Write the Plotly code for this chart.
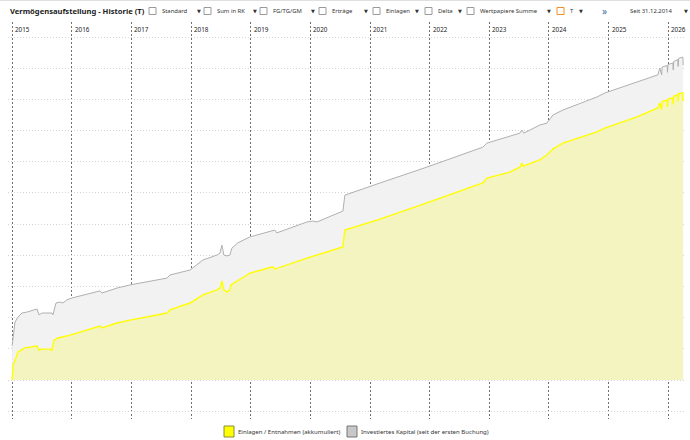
import plotly.graph_objects as go

W, H = 690, 440

# ---------------- data (values in thousand EUR) ----------------
einlagen_dates = ["2015-01-01","2015-01-07","2015-01-25","2015-02-06","2015-03-20","2015-05-09","2015-06-03","2015-06-15","2015-07-03","2015-08-21","2015-09-02","2015-09-15","2015-10-09","2015-12-22","2016-04-03","2016-06-23","2016-07-04","2016-10-04","2016-12-23","2017-08-07","2017-08-25","2017-12-26","2018-03-15","2018-06-09","2018-06-27","2018-07-09","2018-07-21","2018-08-09","2018-08-27","2018-09-02","2018-12-09","2018-12-27","2019-05-17","2019-05-29","2019-12-12","2020-02-11","2020-07-19","2020-07-31","2020-12-13","2021-03-03","2021-12-15","2022-11-23","2022-12-18","2023-05-08","2023-07-08","2023-07-20","2023-07-28","2023-11-07","2023-12-20","2024-01-26","2024-03-27","2024-10-22","2024-12-10","2025-06-24","2025-10-30","2025-11-11","2025-11-22","2025-11-25","2025-12-26","2025-12-28","2025-12-31","2026-01-30","2026-02-01","2026-02-04","2026-03-01","2026-03-03","2026-03-06","2026-04-01","2026-04-03"]
einlagen_vals = [0.0,4.8,7.1,9.0,10.3,10.6,10.9,9.6,9.9,9.9,9.6,12.8,13.5,14.4,16.0,17.3,16.7,18.3,19.2,21.5,22.5,24.7,27.3,28.9,29.5,31.8,28.9,28.2,28.9,30.5,33.7,34.3,36.3,35.6,39.1,40.1,42.7,48.1,50.4,51.6,56.8,63.2,64.8,66.7,68.3,69.6,68.6,70.6,72.2,74.1,76.0,79.6,80.8,84.4,87.3,88.9,86.8,89.3,89.8,87.6,90.1,90.5,88.4,91.0,91.5,89.4,91.9,92.1,89.5]

kapital_dates = ["2015-01-01","2015-01-07","2015-01-19","2015-02-06","2015-03-03","2015-04-02","2015-06-03","2015-06-15","2015-07-03","2015-09-02","2015-09-08","2015-09-27","2015-10-21","2015-11-08","2015-12-02","2016-01-01","2016-04-03","2016-06-23","2016-07-04","2016-10-04","2016-12-23","2017-08-07","2017-08-25","2017-12-26","2018-03-15","2018-06-09","2018-06-27","2018-07-09","2018-07-21","2018-08-09","2018-08-27","2018-09-08","2018-10-14","2018-12-27","2019-05-29","2019-06-10","2019-12-12","2020-01-17","2020-02-11","2020-07-19","2020-07-31","2020-12-13","2021-03-03","2021-12-15","2022-11-23","2022-12-18","2023-05-08","2023-07-08","2023-07-20","2023-08-01","2023-11-07","2023-12-20","2024-01-26","2024-03-27","2024-10-22","2024-12-10","2025-06-24","2025-10-30","2025-11-11","2025-11-22","2025-11-25","2025-12-26","2025-12-28","2025-12-31","2026-01-30","2026-02-01","2026-02-04","2026-03-01","2026-03-03","2026-03-06","2026-04-01","2026-04-03"]
kapital_vals = [11.0,14.4,18.6,20.2,21.5,21.8,22.8,20.9,21.5,21.5,20.9,24.7,25.0,24.7,25.7,26.3,27.6,28.6,27.9,29.5,30.5,32.7,33.7,35.3,38.5,40.1,40.7,43.3,40.1,39.8,40.1,42.3,44.0,45.9,48.1,47.2,50.7,51.0,50.7,54.2,59.3,61.9,63.2,68.3,74.7,76.0,78.3,79.2,80.2,79.2,81.8,82.4,85.0,86.6,90.8,92.1,95.6,97.9,100.1,97.9,100.4,100.9,98.7,101.2,101.7,99.5,102.2,102.8,100.6,103.2,103.6,101.0]

years = [2015, 2016, 2017, 2018, 2019, 2020, 2021, 2022, 2023, 2024, 2025, 2026]
series_names = ["Einlagen / Entnahmen (akkumuliert)", "Investiertes Kapital (seit der ersten Buchung)"]
title_text = "Vermögensaufstellung - Historie (T)"
toolbar_labels = ["Standard", "Sum in RK", "FG/TG/GM", "Erträge", "Einlagen", "Delta", "Wertpapiere Summe", "T"]
since_label = "Seit 31.12.2014"

# ---------------- layout helpers (pixel -> paper) ----------------
def px(x):
    return x / W

def py(y):
    return 1 - y / H

FONT = "Noto Sans"
TXT = "#333333"

fig = go.Figure()

fig.add_trace(go.Scatter(
    x=kapital_dates, y=kapital_vals, mode="lines", name=series_names[1],
    line=dict(color="#b0b0b0", width=1), fill="tozeroy", fillcolor="#f2f2f2",
    showlegend=False, hoverinfo="skip"))
fig.add_trace(go.Scatter(
    x=einlagen_dates, y=einlagen_vals, mode="lines", name=series_names[0],
    line=dict(color="#ffff00", width=1.4), fill="tozeroy", fillcolor="rgba(255,255,0,0.2)",
    showlegend=False, hoverinfo="skip"))

shapes = []
annotations = []

# header title
annotations.append(dict(x=px(8), y=py(11), xref="paper", yref="paper", text="<b>" + title_text + "</b>",
                        showarrow=False, xanchor="left", yanchor="middle",
                        font=dict(family=FONT, size=7.6, color="#222")))

# toolbar
box_x = [149, 204, 260, 319, 373, 425, 467, 557]
arrow_x = [197, 253, 311, 364, 415, 458, 547, 579]
for i, lab in enumerate(toolbar_labels):
    bx = box_x[i]
    col = "#f28c28" if lab == "T" else "#9a9a9a"
    shapes.append(dict(type="rect", xref="paper", yref="paper", x0=px(bx), x1=px(bx + 7),
                       y0=py(14.5), y1=py(7.5), line=dict(color=col, width=1), fillcolor="white"))
    annotations.append(dict(x=px(bx + 11), y=py(11), xref="paper", yref="paper", text=lab,
                            showarrow=False, xanchor="left", yanchor="middle",
                            font=dict(family=FONT, size=5.9, color=TXT)))
    annotations.append(dict(x=px(arrow_x[i] + 2), y=py(11), xref="paper", yref="paper", text="▼",
                            showarrow=False, xanchor="center", yanchor="middle",
                            font=dict(family="DejaVu Sans", size=5, color="#333")))
annotations.append(dict(x=px(604), y=py(10.5), xref="paper", yref="paper", text="»",
                        showarrow=False, xanchor="center", yanchor="middle",
                        font=dict(family=FONT, size=10, color="#4a6fa5")))
annotations.append(dict(x=px(628), y=py(11), xref="paper", yref="paper", text=since_label,
                        showarrow=False, xanchor="left", yanchor="middle",
                        font=dict(family=FONT, size=5.9, color=TXT)))
annotations.append(dict(x=px(686), y=py(11), xref="paper", yref="paper", text="▼",
                        showarrow=False, xanchor="center", yanchor="middle",
                        font=dict(family="DejaVu Sans", size=5, color="#333")))

# year labels next to year lines
for yr in years:
    annotations.append(dict(x=f"{yr}-01-01", y=py(30), xref="x", yref="paper", text=str(yr),
                            showarrow=False, xanchor="left", yanchor="middle", xshift=1,
                            font=dict(family=FONT, size=6.3, color="#222")))

# legend (custom)
leg = [(224, "#ffff00", "#8a8a40", series_names[0], 236),
       (347, "#c8c8c8", "#777777", series_names[1], 359)]
for sx, fc, lc, name, tx in leg:
    shapes.append(dict(type="rect", xref="paper", yref="paper", x0=px(sx), x1=px(sx + 10),
                       y0=py(437), y1=py(426), line=dict(color=lc, width=1), fillcolor=fc))
    annotations.append(dict(x=px(tx), y=py(431.5), xref="paper", yref="paper", text=name,
                            showarrow=False, xanchor="left", yanchor="middle",
                            font=dict(family=FONT, size=6.05, color=TXT)))

# top border
shapes.append(dict(type="line", xref="paper", yref="paper", x0=0, x1=1, y0=py(0.5), y1=py(0.5),
                   line=dict(color="#e0e0e0", width=1)))

fig.update_layout(
    width=W, height=H,
    margin=dict(l=0, r=0, t=0, b=0),
    paper_bgcolor="white", plot_bgcolor="white",
    showlegend=False,
    shapes=shapes, annotations=annotations,
    xaxis=dict(domain=[px(8), px(684)], type="date", range=["2014-12-07", "2026-04-08"],
               showgrid=True, gridcolor="#707070", griddash="2px,2px", gridwidth=1,
               tick0="2015-01-01", dtick="M12", showticklabels=False, ticks="",
               zeroline=False, showline=False, fixedrange=True),
    yaxis=dict(domain=[py(419), py(22)], range=[-12.5, 114.85],
               showgrid=True, gridcolor="#d4d4d4", griddash="1px,2px", gridwidth=1,
               tick0=0, dtick=10, showticklabels=False, ticks="",
               zeroline=False, showline=False, fixedrange=True),
)

fig.write_html("out.html")
